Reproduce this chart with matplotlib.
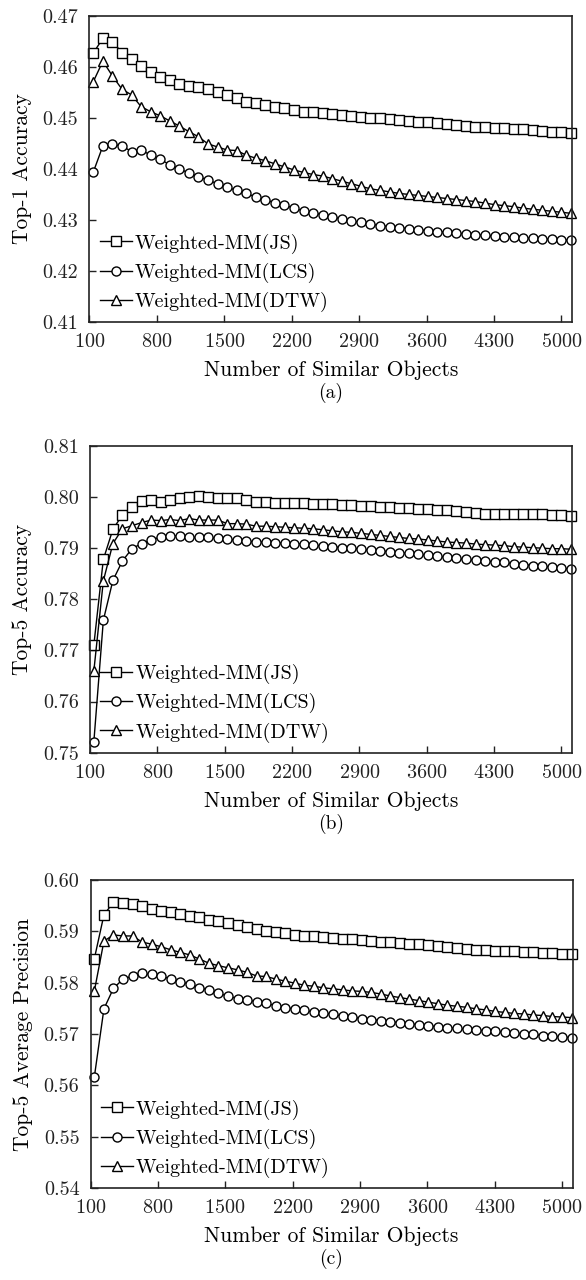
import numpy as np
import matplotlib
matplotlib.use("Agg")
import matplotlib.pyplot as plt

plt.rcParams['font.family'] = ['cmr10', 'DejaVu Serif']
plt.rcParams['mathtext.fontset'] = 'cm'
plt.rcParams['axes.formatter.use_mathtext'] = True

# number of similar objects used for each run (51 settings)
num_objects = np.linspace(140, 5100, 51)

# (a) Top-1 accuracy
top1_js = [0.4627, 0.4656, 0.4649, 0.4628, 0.4615, 0.4602, 0.4590, 0.4580, 0.4574, 0.4566,
           0.4562, 0.4560, 0.4556, 0.4551, 0.4545, 0.4539, 0.4532, 0.4530, 0.4525, 0.4521,
           0.4520, 0.4515, 0.4512, 0.4511, 0.4509, 0.4508, 0.4506, 0.4504, 0.4502, 0.4500,
           0.4499, 0.4498, 0.4496, 0.4494, 0.4492, 0.4491, 0.4489, 0.4488, 0.4486, 0.4484,
           0.4483, 0.4482, 0.4481, 0.4480, 0.4479, 0.4478, 0.4476, 0.4475, 0.4473, 0.4472,
           0.4470]
top1_lcs = [0.4394, 0.4445, 0.4448, 0.4445, 0.4434, 0.4437, 0.4427, 0.4419, 0.4408, 0.4400,
            0.4392, 0.4385, 0.4378, 0.4371, 0.4364, 0.4358, 0.4352, 0.4345, 0.4339, 0.4334,
            0.4329, 0.4323, 0.4318, 0.4314, 0.4310, 0.4306, 0.4302, 0.4298, 0.4295, 0.4292,
            0.4289, 0.4287, 0.4285, 0.4283, 0.4281, 0.4279, 0.4277, 0.4276, 0.4274, 0.4273,
            0.4271, 0.4270, 0.4268, 0.4267, 0.4266, 0.4265, 0.4264, 0.4263, 0.4262, 0.4261,
            0.4260]
top1_dtw = [0.4571, 0.4611, 0.4582, 0.4556, 0.4545, 0.4522, 0.4512, 0.4504, 0.4494, 0.4484,
            0.4473, 0.4463, 0.4449, 0.4443, 0.4437, 0.4436, 0.4427, 0.4421, 0.4416, 0.4410,
            0.4404, 0.4398, 0.4393, 0.4389, 0.4386, 0.4381, 0.4376, 0.4371, 0.4366, 0.4361,
            0.4358, 0.4355, 0.4352, 0.4350, 0.4348, 0.4346, 0.4344, 0.4342, 0.4340, 0.4338,
            0.4336, 0.4333, 0.4330, 0.4328, 0.4326, 0.4323, 0.4321, 0.4319, 0.4317, 0.4315,
            0.4313]

# (b) Top-5 accuracy
top5_js = [0.7710, 0.7878, 0.7937, 0.7965, 0.7980, 0.7993, 0.7994, 0.7991, 0.7995, 0.7999,
           0.8001, 0.8003, 0.8001, 0.7999, 0.7999, 0.7999, 0.7994, 0.7991, 0.7991, 0.7989,
           0.7988, 0.7988, 0.7988, 0.7986, 0.7986, 0.7986, 0.7985, 0.7984, 0.7983, 0.7982,
           0.7981, 0.7980, 0.7979, 0.7978, 0.7977, 0.7976, 0.7975, 0.7974, 0.7972, 0.7970,
           0.7968, 0.7967, 0.7966, 0.7966, 0.7967, 0.7967, 0.7967, 0.7966, 0.7965, 0.7964,
           0.7963]
top5_lcs = [0.7520, 0.7759, 0.7837, 0.7875, 0.7899, 0.7909, 0.7916, 0.7922, 0.7924, 0.7924,
            0.7921, 0.7921, 0.7921, 0.7919, 0.7917, 0.7916, 0.7914, 0.7912, 0.7912, 0.7910,
            0.7910, 0.7909, 0.7908, 0.7906, 0.7904, 0.7903, 0.7901, 0.7900, 0.7898, 0.7896,
            0.7895, 0.7893, 0.7891, 0.7890, 0.7888, 0.7886, 0.7884, 0.7882, 0.7880, 0.7878,
            0.7876, 0.7875, 0.7873, 0.7872, 0.7870, 0.7868, 0.7866, 0.7865, 0.7863, 0.7861,
            0.7859]
top5_dtw = [0.7659, 0.7836, 0.7909, 0.7938, 0.7944, 0.7950, 0.7955, 0.7954, 0.7956, 0.7954,
            0.7958, 0.7955, 0.7955, 0.7955, 0.7948, 0.7948, 0.7947, 0.7943, 0.7943, 0.7942,
            0.7941, 0.7940, 0.7939, 0.7938, 0.7936, 0.7934, 0.7932, 0.7931, 0.7929, 0.7927,
            0.7925, 0.7923, 0.7921, 0.7919, 0.7918, 0.7916, 0.7914, 0.7912, 0.7911, 0.7910,
            0.7908, 0.7907, 0.7906, 0.7905, 0.7903, 0.7902, 0.7901, 0.7900, 0.7899, 0.7899,
            0.7898]

# (c) Top-5 average precision
ap5_js = [0.5847, 0.5932, 0.5957, 0.5955, 0.5953, 0.5950, 0.5943, 0.5940, 0.5937, 0.5933,
          0.5930, 0.5927, 0.5923, 0.5920, 0.5916, 0.5912, 0.5909, 0.5904, 0.5901, 0.5898,
          0.5896, 0.5893, 0.5891, 0.5890, 0.5888, 0.5887, 0.5886, 0.5885, 0.5883, 0.5881,
          0.5880, 0.5879, 0.5877, 0.5876, 0.5875, 0.5873, 0.5872, 0.5870, 0.5868, 0.5866,
          0.5864, 0.5863, 0.5862, 0.5861, 0.5861, 0.5860, 0.5859, 0.5858, 0.5857, 0.5856,
          0.5855]
ap5_lcs = [0.5617, 0.5749, 0.5789, 0.5807, 0.5813, 0.5818, 0.5816, 0.5813, 0.5807, 0.5802,
           0.5797, 0.5790, 0.5786, 0.5779, 0.5774, 0.5769, 0.5766, 0.5763, 0.5760, 0.5755,
           0.5751, 0.5749, 0.5746, 0.5743, 0.5741, 0.5738, 0.5735, 0.5733, 0.5730, 0.5728,
           0.5726, 0.5724, 0.5722, 0.5720, 0.5718, 0.5716, 0.5714, 0.5712, 0.5711, 0.5709,
           0.5708, 0.5706, 0.5705, 0.5703, 0.5702, 0.5700, 0.5699, 0.5697, 0.5696, 0.5694,
           0.5693]
ap5_dtw = [0.5784, 0.5881, 0.5893, 0.5891, 0.5891, 0.5879, 0.5875, 0.5870, 0.5864, 0.5859,
           0.5854, 0.5846, 0.5838, 0.5833, 0.5829, 0.5825, 0.5820, 0.5813, 0.5812, 0.5807,
           0.5803, 0.5799, 0.5795, 0.5793, 0.5790, 0.5788, 0.5786, 0.5784, 0.5783, 0.5781,
           0.5778, 0.5774, 0.5771, 0.5768, 0.5765, 0.5762, 0.5759, 0.5756, 0.5754, 0.5752,
           0.5749, 0.5747, 0.5744, 0.5742, 0.5740, 0.5739, 0.5737, 0.5736, 0.5734, 0.5733,
           0.5732]

labels = ['Weighted-MM(JS)', 'Weighted-MM(LCS)', 'Weighted-MM(DTW)']
markers = ['s', 'o', '^']
xticks = [100, 800, 1500, 2200, 2900, 3600, 4300, 5000]

panels = [
    ([top1_js, top1_lcs, top1_dtw], 'Top-1 Accuracy', (0.41, 0.47), '(a)'),
    ([top5_js, top5_lcs, top5_dtw], 'Top-5 Accuracy', (0.75, 0.81), '(b)'),
    ([ap5_js, ap5_lcs, ap5_dtw], 'Top-5 Average Precision', (0.54, 0.60), '(c)'),
]
# axes boxes [left, bottom, width, height] in figure fractions
boxes = [[0.1527, 0.7484, 0.8234, 0.2393],
         [0.1535, 0.4120, 0.8225, 0.2396],
         [0.1545, 0.0719, 0.8225, 0.2406]]

fs = 14.5
fig = plt.figure(figsize=(5.86, 12.8), dpi=100)
for (series, ylabel, ylim, tag), box in zip(panels, boxes):
    ax = fig.add_axes(box)
    for vals, lab, mk in zip(series, labels, markers):
        ax.plot(num_objects, vals, color='black', linewidth=1.0, marker=mk,
                markersize=7 if mk == 's' else 6.5, markerfacecolor='white',
                markeredgecolor='black', markeredgewidth=1.0, label=lab,
                clip_on=False)
    ax.set_xlim(100, 5110)
    ax.set_ylim(*ylim)
    ax.set_xticks(xticks)
    ax.set_yticks(np.linspace(ylim[0], ylim[1], 7))
    ax.yaxis.set_major_formatter(plt.FormatStrFormatter('%.2f'))
    ax.tick_params(direction='in', length=5, width=1.0, top=False, right=False,
                   labelsize=fs, pad=8, colors='#222222')
    for sp in ax.spines.values():
        sp.set_linewidth(1.2)
        sp.set_color('#222222')
    ax.set_xlabel('Number of Similar Objects', fontsize=15.5, labelpad=7)
    ax.set_ylabel(ylabel, fontsize=15.5, labelpad=8)
    ax.legend(loc='lower left', frameon=False, fontsize=fs, handlelength=1.6,
              handletextpad=0.15, labelspacing=0.45, borderaxespad=0.2,
              borderpad=0.3)
    ax.text(0.5, -0.232, tag, transform=ax.transAxes, ha='center', va='center',
            fontsize=14)

fig.savefig('out.png', dpi=100)
